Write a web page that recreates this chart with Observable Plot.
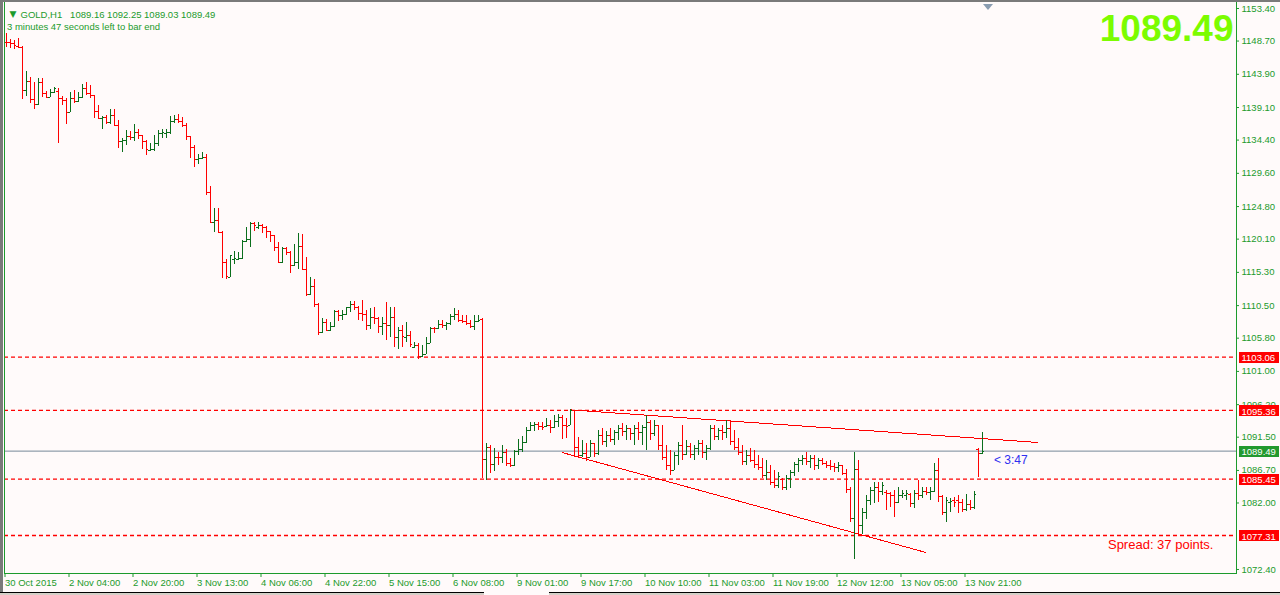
<!DOCTYPE html>
<html><head><meta charset="utf-8">
<script src="https://cdn.jsdelivr.net/npm/d3@7"></script>
<script src="https://cdn.jsdelivr.net/npm/@observablehq/plot@0.6"></script>
<style>
body{margin:0;background:#fffafa;overflow:hidden}
#wrap{position:relative;width:1280px;height:595px;background:#fffafa}
#wrap svg{position:absolute;left:0;top:0}
.chrome-top{position:absolute;left:0;top:0;width:1280px;height:2px;background:#7a7a7a}
.chrome-left{position:absolute;left:0;top:0;width:3px;height:595px;background:#7a7a7a}
.shift{position:absolute;left:983px;top:4px;width:0;height:0;border-left:5px solid transparent;border-right:5px solid transparent;border-top:6px solid #8a9cb0}
.tabbar-a{position:absolute;left:0;top:592px;width:484px;height:3px;border-top:1px solid #000;background:#d4d0c8}
.tabbar-b{position:absolute;left:549px;top:592px;width:731px;height:3px;border-top:1px solid #000;background:#d4d0c8}
</style></head>
<body><div id="wrap"><div class="chrome-top"></div><div class="chrome-left"></div><div class="shift"></div><div class="tabbar-a"></div><div class="tabbar-b"></div></div>
<script>
const opens = [
1148.49,1148.49,1148.30,1147.96,1147.81,1141.51,1142.81,1140.21,1139.54,1142.67,1141.08,1140.60,1141.22,1141.46,1140.36,1140.12,1138.43,1140.40,1139.97,1140.60,
1141.80,1141.08,1140.84,1138.53,1137.47,1137.61,1136.89,1137.90,1136.51,1134.20,1134.34,1134.92,1134.83,1135.45,1135.11,1134.20,1132.95,1133.05,1133.86,1135.35,
1135.40,1135.50,1137.13,1137.33,1137.13,1136.51,1134.92,1133.38,1131.60,1131.74,1131.89,1126.78,1122.46,1122.75,1121.07,1116.69,1114.63,1117.10,1117.20,1117.27,
1119.82,1120.00,1122.31,1121.83,1122.07,1121.83,1121.21,1120.63,1118.95,1116.78,1118.80,1118.13,1116.25,1116.73,1119.04,1115.77,1112.12,1113.27,1110.62,1106.68,
1108.07,1106.92,1107.49,1109.71,1109.09,1109.18,1110.19,1110.67,1110.19,1109.33,1109.20,1107.64,1108.84,1108.60,1107.49,1107.98,1107.60,1108.75,1105.96,1106.92,
1105.90,1106.20,1104.50,1104.80,1103.10,1103.40,1105.09,1107.25,1107.16,1107.78,1107.60,1107.98,1108.94,1109.18,1108.36,1108.27,1107.88,1107.49,1108.27,1108.45,
1088.24,1090.06,1087.56,1088.62,1088.52,1089.34,1087.66,1087.42,1089.49,1089.68,1090.79,1092.47,1093.19,1093.34,1093.05,1093.05,1093.19,1092.95,1093.82,1094.40,
1093.19,1093.19,1095.36,1090.06,1088.86,1089.10,1088.60,1090.60,1089.20,1091.80,1090.90,1091.70,1091.20,1092.20,1092.80,1092.30,1092.70,1092.00,1092.80,1092.20,
1092.90,1093.60,1092.00,1093.20,1090.30,1088.60,1087.40,1086.70,1088.90,1090.30,1089.00,1090.20,1089.00,1089.90,1090.60,1089.30,1089.90,1092.80,1091.60,1092.50,
1092.20,1092.80,1090.90,1090.00,1089.30,1088.00,1088.90,1088.20,1087.60,1087.10,1086.00,1086.40,1085.00,1084.50,1085.40,1084.20,1085.60,1086.40,1087.60,1088.10,
1088.40,1088.00,1088.40,1087.40,1088.14,1087.66,1087.42,1087.28,1087.08,1087.42,1086.22,1083.91,1079.72,1086.89,1078.76,1080.68,1082.37,1083.81,1084.29,1083.71,
1083.57,1083.33,1083.09,1082.13,1083.09,1083.09,1083.20,1081.89,1083.33,1083.09,1083.71,1083.57,1083.71,1086.70,1082.95,1080.68,1082.10,1082.37,1082.37,1082.13,
1081.00,1081.80,1081.30,1089.70,1089.16];
const highs = [
1149.74,1148.87,1148.78,1149.07,1147.96,1144.30,1143.49,1142.76,1143.24,1143.24,1141.46,1141.66,1141.99,1141.80,1140.70,1140.45,1141.32,1141.56,1141.32,1142.43,
1142.76,1142.28,1140.84,1139.40,1137.81,1137.95,1138.82,1138.82,1137.23,1134.59,1135.79,1135.69,1136.65,1135.98,1135.11,1134.34,1133.86,1135.02,1135.79,1135.88,
1135.88,1137.81,1137.90,1138.10,1137.61,1136.85,1134.92,1133.62,1132.32,1132.56,1132.27,1127.75,1124.48,1124.48,1121.21,1117.17,1117.75,1118.33,1118.18,1119.86,
1121.83,1122.51,1122.46,1122.51,1122.22,1121.93,1121.25,1120.68,1119.57,1118.85,1118.85,1118.37,1119.33,1120.92,1120.73,1117.41,1114.52,1114.28,1110.77,1108.60,
1108.51,1108.12,1109.81,1109.81,1109.81,1110.29,1111.15,1111.15,1110.38,1111.25,1109.81,1110.05,1110.19,1108.84,1108.75,1111.01,1110.19,1110.19,1107.40,1107.64,
1108.12,1106.77,1105.24,1105.00,1104.76,1105.96,1107.40,1107.30,1108.36,1108.36,1108.12,1109.18,1110.05,1109.81,1109.09,1109.09,1108.36,1109.09,1109.09,1108.60,
1090.55,1090.30,1089.82,1089.34,1090.30,1089.68,1088.38,1089.58,1091.12,1091.60,1092.86,1093.67,1093.67,1093.67,1093.58,1094.15,1093.91,1094.64,1094.78,1094.64,
1094.15,1095.45,1095.36,1091.51,1091.03,1090.55,1091.00,1090.60,1092.50,1092.80,1092.30,1092.80,1092.50,1093.20,1093.50,1093.20,1092.80,1093.20,1093.60,1093.20,
1094.60,1093.90,1093.90,1093.20,1093.20,1090.30,1089.60,1089.30,1090.70,1093.20,1091.00,1090.60,1090.30,1091.00,1091.00,1090.30,1093.20,1093.20,1092.80,1093.20,
1093.90,1093.90,1092.50,1091.30,1090.30,1089.60,1089.90,1089.60,1088.90,1088.40,1088.10,1087.40,1086.70,1086.40,1085.60,1086.00,1086.70,1087.90,1088.40,1088.90,
1089.30,1088.90,1088.90,1088.40,1088.38,1088.05,1088.14,1087.76,1087.90,1087.42,1086.80,1084.29,1089.35,1088.14,1081.16,1083.09,1084.29,1085.01,1085.01,1085.01,
1083.81,1083.57,1083.81,1084.29,1083.81,1083.81,1083.40,1083.81,1085.26,1084.29,1084.29,1084.29,1087.76,1088.38,1083.09,1082.85,1082.61,1082.85,1083.09,1082.50,
1083.20,1082.30,1083.70,1089.87,1092.25];
const lows = [
1147.81,1147.57,1147.53,1147.57,1140.31,1140.74,1139.73,1138.87,1139.35,1140.60,1140.50,1140.50,1141.08,1133.86,1139.35,1136.70,1138.34,1139.64,1139.88,1140.45,
1140.84,1140.36,1137.57,1137.47,1135.98,1136.65,1136.65,1136.46,1133.24,1132.66,1133.62,1134.34,1134.25,1134.54,1133.00,1132.22,1132.71,1132.80,1133.48,1134.59,
1134.68,1135.21,1136.75,1136.85,1136.27,1134.34,1131.79,1130.39,1130.83,1131.55,1126.40,1122.41,1121.12,1120.97,1114.48,1114.24,1114.63,1116.45,1117.03,1117.12,
1119.67,1118.95,1121.25,1121.54,1120.87,1120.15,1119.67,1118.37,1116.54,1116.64,1117.74,1115.19,1116.20,1115.77,1115.68,1111.88,1111.97,1110.29,1106.20,1106.44,
1106.82,1106.82,1107.30,1108.27,1108.36,1109.09,1109.57,1109.81,1108.36,1108.27,1106.92,1107.01,1107.78,1106.44,1106.20,1105.48,1105.96,1104.52,1104.13,1104.52,
1105.24,1104.52,1104.27,1102.68,1103.07,1103.40,1105.00,1106.53,1107.01,1107.16,1106.92,1107.64,1108.36,1108.12,1107.88,1107.64,1107.16,1106.92,1108.12,1085.50,
1085.25,1086.31,1086.60,1087.42,1087.66,1087.27,1087.18,1087.32,1088.86,1089.34,1090.64,1092.37,1092.37,1092.47,1092.47,1092.86,1091.99,1092.71,1092.95,1091.12,
1091.27,1093.19,1088.62,1088.38,1088.62,1088.04,1088.50,1088.60,1088.90,1090.30,1090.00,1090.80,1090.30,1091.00,1091.60,1091.00,1091.00,1090.30,1091.00,1090.30,
1089.60,1091.00,1091.60,1089.60,1088.10,1086.70,1086.00,1086.70,1087.40,1088.10,1088.90,1088.40,1088.10,1088.90,1088.40,1088.10,1089.60,1091.00,1091.00,1091.00,
1091.30,1090.30,1089.60,1088.90,1087.40,1087.40,1087.90,1087.00,1086.70,1085.50,1085.30,1084.50,1084.10,1084.10,1083.80,1083.80,1084.10,1085.80,1086.40,1087.40,
1087.40,1087.00,1086.70,1086.90,1087.42,1086.94,1086.70,1086.46,1086.46,1085.98,1083.43,1079.24,1073.80,1077.31,1077.46,1079.57,1081.65,1081.89,1082.13,1083.09,
1080.92,1081.40,1079.96,1081.89,1082.61,1082.37,1081.40,1081.16,1082.37,1082.61,1083.09,1082.37,1083.57,1082.13,1080.20,1079.24,1080.68,1081.40,1080.44,1080.60,
1080.70,1080.90,1081.00,1085.68,1089.03];
const closes = [
1148.45,1148.30,1148.06,1147.81,1141.51,1142.81,1140.21,1139.54,1142.67,1141.08,1140.60,1141.22,1141.80,1140.36,1140.12,1138.43,1140.40,1139.97,1140.60,1141.80,
1141.08,1140.84,1138.53,1137.52,1137.61,1136.89,1137.90,1136.51,1134.20,1134.34,1134.92,1134.83,1135.45,1135.11,1134.20,1133.04,1133.05,1133.86,1135.40,1135.45,
1135.50,1137.13,1137.33,1137.13,1136.51,1134.92,1133.38,1131.60,1131.74,1131.89,1126.78,1122.46,1122.75,1121.07,1116.69,1114.72,1117.70,1117.32,1117.32,1119.82,
1120.00,1122.31,1122.07,1122.07,1121.83,1121.21,1120.63,1118.95,1116.78,1118.80,1118.13,1116.25,1116.73,1119.04,1115.77,1112.12,1113.27,1110.62,1106.68,1108.07,
1106.92,1107.49,1109.71,1109.09,1109.18,1110.19,1110.67,1110.19,1109.33,1109.20,1107.64,1108.84,1108.60,1107.49,1107.98,1107.60,1108.75,1105.96,1106.92,1106.05,
1106.20,1104.85,1104.80,1103.21,1103.40,1105.09,1107.25,1107.16,1107.78,1107.60,1107.98,1108.94,1109.18,1108.36,1108.27,1107.88,1107.49,1108.27,1108.36,1088.24,
1090.06,1087.56,1088.62,1088.52,1089.34,1087.66,1087.42,1089.49,1089.68,1090.79,1092.47,1093.19,1093.34,1093.05,1092.95,1093.19,1092.95,1093.82,1094.40,1093.19,
1093.05,1095.36,1090.06,1088.86,1089.10,1088.50,1090.60,1089.20,1091.80,1090.90,1091.70,1091.20,1092.20,1092.80,1092.30,1092.70,1092.00,1092.80,1092.20,1092.90,
1093.60,1092.00,1093.20,1090.30,1088.60,1087.40,1086.70,1088.90,1090.30,1089.00,1090.20,1089.00,1089.90,1090.60,1089.30,1089.90,1092.80,1091.60,1092.50,1092.20,
1092.80,1090.90,1090.00,1089.30,1088.00,1088.90,1088.20,1087.60,1087.10,1086.00,1086.40,1085.00,1084.50,1085.80,1084.20,1085.60,1086.40,1087.60,1088.10,1088.40,
1088.00,1088.40,1087.40,1088.10,1087.66,1087.42,1087.28,1087.08,1087.42,1086.22,1083.91,1079.72,1086.89,1078.76,1080.68,1082.37,1083.81,1084.29,1083.71,1084.53,
1083.33,1083.09,1082.13,1083.09,1083.33,1083.43,1081.89,1083.33,1083.09,1083.71,1083.57,1083.71,1086.70,1082.95,1080.68,1082.37,1082.27,1082.10,1082.13,1081.00,
1081.80,1081.30,1083.20,1089.16,1089.49];

const levelPrices = [1103.06, 1095.36, 1085.45, 1077.31];
const lastPrice = 1089.49;
const trendStartBar = [141, 139];
const trendStartPrice = [1095.45, 1089.29];
const trendEndBar = [258, 230];
const trendEndPrice = [1090.74, 1074.85];
const yTicks = [1153.40,1148.70,1143.90,1139.10,1134.40,1129.60,1124.80,1120.10,1115.30,1110.50,1105.80,1101.00,1096.20,1091.50,1086.70,1082.00,1072.40];
const xTickBars = [0,16,32,48,64,80,96,112,128,144,160,176,192,208,224,240];
const xTickLabels = ["30 Oct 2015","2 Nov 04:00","2 Nov 20:00","3 Nov 13:00","4 Nov 06:00","4 Nov 22:00","5 Nov 15:00","6 Nov 08:00","9 Nov 01:00","9 Nov 17:00","10 Nov 10:00","11 Nov 03:00","11 Nov 19:00","12 Nov 12:00","13 Nov 05:00","13 Nov 21:00"];
const titleText = "GOLD,H1\u00a0\u00a0 1089.16 1092.25 1089.03 1089.49";
const subtitleText = "3 minutes 47 seconds left to bar end";
const timerText = "< 3:47";
const spreadText = "Spread: 37 points.";

const RED = "red", BULL = "#0b6e1c", AXIS = "#1c9a2c", CUR = "lightslategray";
const bars = opens.map((o, i) => ({i, o, h: highs[i], l: lows[i], c: closes[i], col: closes[i] >= o ? BULL : "#ff0000"}));
const trends = trendStartBar.map((b, k) => ({b1: b, p1: trendStartPrice[k], b2: trendEndBar[k], p2: trendEndPrice[k]}));
const boxes = levelPrices.map(v => ({v, col: "#ff0000"})).concat([{v: lastPrice, col: "#22992e"}]);
const lastBar = bars[bars.length - 1];
const rectSym = {draw(ctx) { ctx.rect(-20, -5.5, 40, 11); }};
const font = "'Liberation Sans', Arial, sans-serif";
const crisp = "crispEdges";

const chart = Plot.plot({
  width: 1280, height: 595,
  marginLeft: 4, marginRight: 44, marginTop: 0, marginBottom: 22,
  style: {background: "transparent", fontFamily: font, fontSize: "9.5px", color: AXIS, overflow: "visible"},
  x: {type: "linear", domain: [-0.375, 307.625], axis: null},
  y: {type: "linear", domain: [1071.82, 1154.555], axis: null},
  color: {type: "identity"},
  marks: [
    Plot.ruleY(levelPrices, {stroke: RED, strokeWidth: 1.3, strokeDasharray: "4 3"}),
    Plot.ruleY([lastPrice], {stroke: CUR, strokeWidth: 1}),
    Plot.link(trends, {x1: "b1", y1: "p1", x2: "b2", y2: "p2", stroke: RED, shapeRendering: crisp}),
    Plot.ruleX(bars, {x: "i", y1: "l", y2: "h", stroke: "col", shapeRendering: crisp}),
    Plot.link(bars, {x1: d => d.i - 0.5, x2: "i", y1: "o", y2: "o", stroke: "col", shapeRendering: crisp}),
    Plot.link(bars, {x1: "i", x2: d => d.i + 0.5, y1: "c", y2: "c", stroke: "col", shapeRendering: crisp}),
    Plot.frame({stroke: AXIS, shapeRendering: crisp}),
    Plot.axisX(xTickBars, {anchor: "bottom", tickSize: 4, tickPadding: 2, textAnchor: "start", dx: -1,
      tickFormat: d => xTickLabels[xTickBars.indexOf(d)], stroke: AXIS, fill: AXIS, fontSize: 9.5}),
    Plot.axisY(yTicks, {anchor: "right", tickSize: 2, tickPadding: 3, tickFormat: d => d.toFixed(2), stroke: AXIS, fill: AXIS, fontSize: 9.5}),
    Plot.dot(boxes, {y: "v", frameAnchor: "right", dx: 22, dy: 0.5, symbol: rectSym, fill: "col", stroke: null, shapeRendering: crisp}),
    Plot.text(boxes, {y: "v", frameAnchor: "right", dx: 5, dy: 1, textAnchor: "start", lineAnchor: "middle", text: d => d.v.toFixed(2), fill: "white", fontSize: 9.5}),
    Plot.text([lastBar], {x: "i", y: "c", dx: 12, dy: 8.6, textAnchor: "start", lineAnchor: "middle", text: () => timerText, fill: "#2f2ff0", fontSize: 12}),
    Plot.text([lastPrice], {frameAnchor: "top-right", dx: -3, dy: 29, textAnchor: "end", lineAnchor: "middle", text: d => d.toFixed(2), fill: "#7cfc00", fontSize: 37, fontWeight: "bold"}),
    Plot.text([spreadText], {frameAnchor: "bottom-right", dx: -23, dy: -28.6, textAnchor: "end", lineAnchor: "middle", text: d => d, fill: "#ff0000", fontSize: 13}),
    Plot.text(["\u25bc"], {frameAnchor: "top-left", dx: 5, dy: 13.5, textAnchor: "start", lineAnchor: "middle", text: d => d, fill: AXIS, fontSize: 9, fontFamily: "DejaVu Sans"}),
    Plot.text([titleText], {frameAnchor: "top-left", dx: 16, dy: 14, textAnchor: "start", lineAnchor: "middle", text: d => d, fill: AXIS, fontSize: 9.5}),
    Plot.text([subtitleText], {frameAnchor: "top-left", dx: 2.5, dy: 26, textAnchor: "start", lineAnchor: "middle", text: d => d, fill: AXIS, fontSize: 9.5})
  ]
});
document.getElementById("wrap").prepend(chart);
</script>
</body></html>
